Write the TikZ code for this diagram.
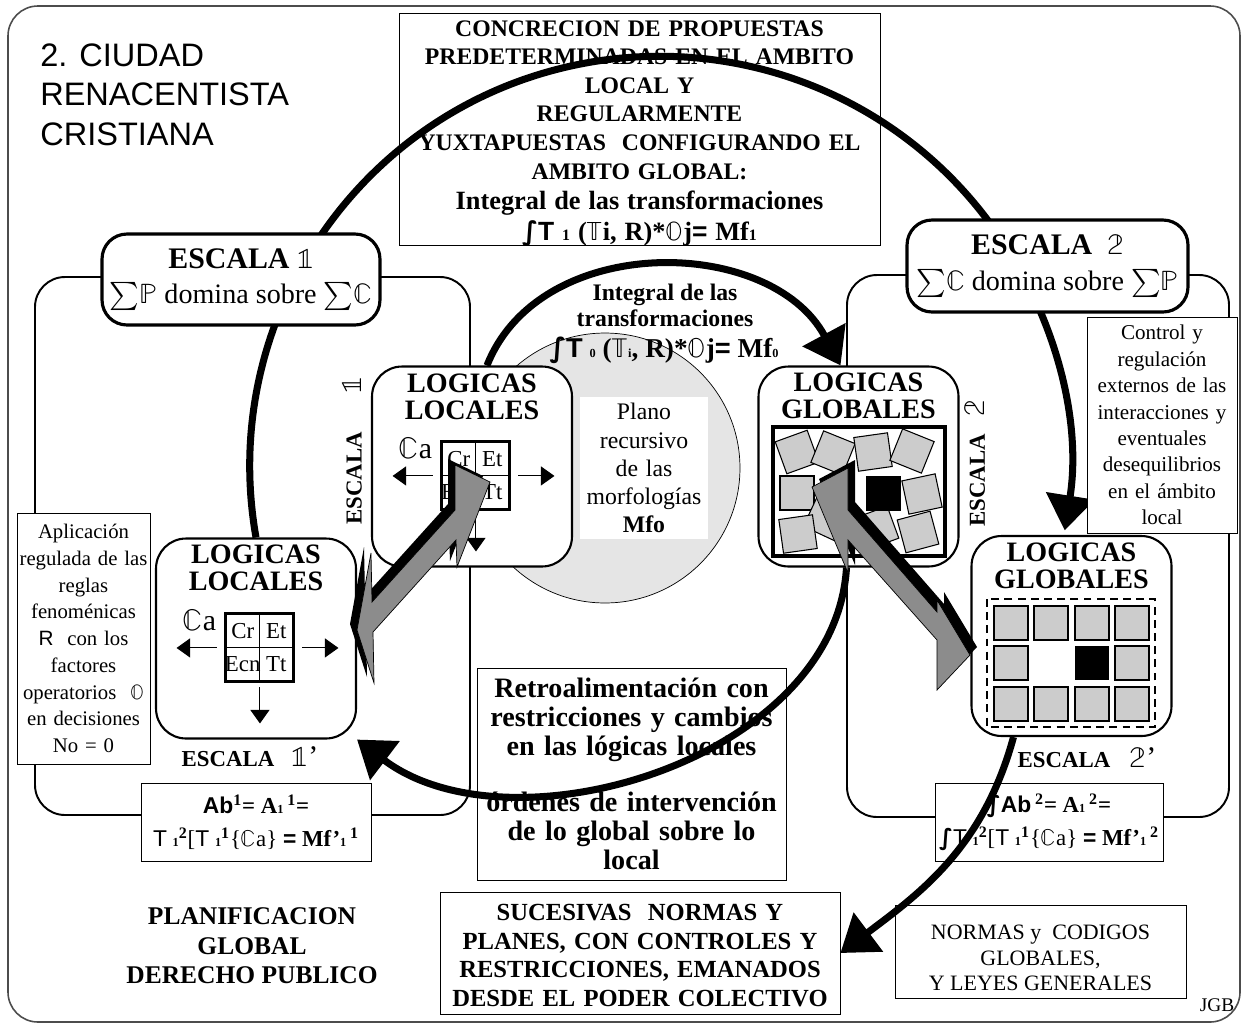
\documentclass[tikz,border=0pt]{standalone}
\usepackage{fontspec}
\usepackage{unicode-math}
\setmainfont{Liberation Serif}
\setsansfont{Liberation Sans}
\newfontfamily\intfont{DejaVu Sans}
\usetikzlibrary{arrows.meta, calc, positioning}

\tikzset{
  zone/.style={draw, rounded corners=0.6cm, line width=1.1pt},
  scalebox/.style={draw, fill=white, rounded corners=0.5cm, line width=1.8pt, inner sep=0pt, align=center},
  logicbox/.style={draw, fill=white, rounded corners=0.6cm, line width=1.2pt, inner sep=0pt, minimum width=4cm, minimum height=4cm},
  textbox/.style={draw, fill=white, line width=0.5pt, inner sep=0pt, align=center},
  cell/.style={draw, line width=0.5pt, minimum size=0.67cm, inner sep=0pt, font=\fontsize{13}{13}\selectfont},
  tile/.style={draw, fill=gray!40, line width=0.6pt, minimum size=0.68cm, inner sep=0pt},
  bigline/.style={line width=4pt},
  bighead/.style={-{Triangle[length=0.7cm,width=0.95cm]}},
  smallarrow/.style={line width=0.6pt, -{Triangle[length=0.27cm,width=0.38cm]}},
  boltfill/.style={fill=black!45, draw=black, line width=0.4pt},
}

\newcommand{\tallint}{{\intfont\bfseries ∫}}

% cuadro Cr / Et / Ecn / Tt con sus flechas
\newcommand{\logicgrid}[3]{%
  \node[cell] (#1cr) at (#2-16.75,#3+16.75) {Cr};
  \node[cell] (#1et) at (#2+16.75,#3+16.75) {Et};
  \node[cell] (#1ecn) at (#2-16.75,#3-16.75) {\makebox[0pt]{Ecn}};
  \node[cell] (#1tt) at (#2+16.75,#3-16.75) {Tt};
  \draw[line width=1.3pt] (#1cr.north west) rectangle (#1tt.south east);
  \node[inner sep=0pt, font=\fontsize{17}{17}\selectfont] (#1ca) at (#2-60,#3+27) {$\mathbb{C}$a};
  \draw[smallarrow] ($(#1cr.south west)+(-9,0)$) -- +(-40,0);
  \draw[smallarrow] ($(#1et.south east)+(9,0)$) -- +(36,0);
  \draw[smallarrow] ($(#1ecn.south east)+(0,-6)$) -- +(0,-36);
}

\begin{document}
\begin{tikzpicture}[x=0.02cm, y=0.02cm]

        \useasboundingbox (0,0) rectangle (1243,-1025);
        \draw[draw=black!70, line width=0.9pt, rounded corners=0.6cm] (8,-6) rectangle (1240,-1022);
        \draw[zone] (35,-277) rectangle (470,-815);
        \draw[zone] (847,-275) rectangle (1229,-817);

        \node[anchor=north west, inner sep=0pt, align=left, font=\sffamily\fontsize{18.5}{22.7}\selectfont] (title) at (40,-43) {2. CIUDAD\\RENACENTISTA\\CRISTIANA};

        % caja superior
        \node[textbox, minimum width=9.62cm, minimum height=4.64cm] (concrecion) at (639.5,-129) {};
        \node[anchor=north, inner sep=0pt, text width=9.4cm, align=center, font=\bfseries\fontsize{13.5}{16.3}\selectfont] (concreciontxt) at (639.5,-20) {CONCRECION DE PROPUESTAS\\ PREDETERMINADAS EN EL AMBITO\\ LOCAL Y\\ REGULARMENTE\\ YUXTAPUESTAS \ CONFIGURANDO EL\\ AMBITO GLOBAL:\par {\fontsize{15}{17.5}\selectfont Integral de las transformaciones\\ \tallint\textsf{T} {\small 1} ($\mathbb{T}$i, R)*$\mathbb{O}$j\textsf{=} Mf{\small 1}\par}};

        % plano recursivo
        \node[circle, draw, fill=gray!20, line width=0.4pt, minimum size=5.4cm, inner sep=0pt] (plane) at (605,-468) {};
        \node[fill=white, minimum width=2.56cm, minimum height=2.84cm, text width=2.5cm, align=center, inner sep=0pt, font=\fontsize{13.5}{16}\selectfont] (plano) at (644,-468) {Plano\\ recursivo\\ de las\\ morfologías\\ \textbf{Mfo}};
        \node[align=center, inner sep=0pt, font=\bfseries\fontsize{13.5}{14.8}\selectfont] (integral0) at (665,-305) {Integral de las\\transformaciones};
        \node[inner sep=0pt, font=\bfseries\fontsize{15.5}{16}\selectfont] (formula0) at (664,-350) {\tallint\textsf{T} {\scriptsize 0} ($\mathbb{T}${\scriptsize i}, R)*$\mathbb{O}$j\textsf{=} Mf{\scriptsize 0}};

        % logicas locales (escala 1)
        \node[logicbox] (loc1) at (472,-466.5) {};
        \node[align=center, inner sep=0pt, font=\bfseries\fontsize{16}{15.4}\selectfont] (loc1t) at (472,-396.5) {LOGICAS\\LOCALES};
        \logicgrid{la}{475.5}{-475.5}

        % logicas globales (escala 2)
        \node[logicbox] (glob1) at (858.5,-466.5) {};
        \node[align=center, inner sep=0pt, font=\bfseries\fontsize{16}{15.4}\selectfont] (glob1t) at (858.5,-396) {LOGICAS\\GLOBALES};
        \draw[line width=2.3pt] (773,-427) rectangle (945,-556);
        \foreach \tx/\ty/\ta [count=\i] in {797/452/20, 833/453/-22, 873/452/8, 912/451/-22, 797/493/0, 826/518/-25, 922/494/12, 798/534/8, 877/528/20, 918/532/15}
            \node[tile, rotate=\ta] (gtile\i) at (\tx,-\ty) {};
        \node[fill=black, minimum size=0.7cm, inner sep=0pt] (g1black) at (883,-493) {};

        % logicas locales (escala 1')
        \node[logicbox] (loc1b) at (256,-638.5) {};
        \node[align=center, inner sep=0pt, font=\bfseries\fontsize{16}{15.4}\selectfont] (loc1bt) at (256,-567.5) {LOGICAS\\LOCALES};
        \logicgrid{lb}{259.5}{-647.5}

        % logicas globales (escala 2')
        \node[logicbox] (glob2) at (1071.5,-636) {};
        \node[align=center, inner sep=0pt, font=\bfseries\fontsize{16}{15.4}\selectfont] (glob2t) at (1071.5,-566) {LOGICAS\\GLOBALES};
        \draw[line width=0.6pt, dash pattern=on 4.5pt off 3pt] (987,-599) rectangle (1155,-727);
        \foreach \tx/\ty in {1011/623, 1051/623, 1092/623, 1132/623, 1011/663, 1132/663, 1011/704, 1051/704, 1092/704, 1132/704}
            \node[tile] (t\tx\ty) at (\tx,-\ty) {};
        \node[fill=black, minimum size=0.68cm, inner sep=0pt] (g2black) at (1092,-663) {};

        % retroalimentacion
        \node[textbox, minimum width=6.18cm, minimum height=4.24cm, text width=6.1cm, font=\bfseries\fontsize{16}{16.5}\selectfont] (retro) at (631.5,-774) {Retroalimentación con\\ restricciones y cambios\\ en las lógicas locales\\[15pt] órdenes de intervención\\ de lo global sobre lo\\ local};

        % flechas gruesas
        \draw[bigline, bighead] (loc1b.north) arc[start angle=190, end angle=-9, radius=410];
        \draw[bigline, bighead] ($(loc1.north)+(15,0)$) .. controls +(53,134) and +(-70,130) .. ($(glob1.north)+(-18,0)$);
        \draw[bigline, bighead] ($(glob1.south)+(-12,0)$) .. controls +(-11.5,-193) and +(153,-116) .. (loc1b.south east);

        % flechas grises
        \fill[black, shift={(-7,6)}] (455,-465) -- (490,-482) -- (457,-567) -- (456,-540) -- (373,-632) -- (374,-683) -- (357,-630) -- (371,-553) -- (372,-602) -- (455,-510) -- cycle;
        \filldraw[boltfill] (455,-465) -- (490,-482) -- (457,-567) -- (456,-540) -- (373,-632) -- (374,-683) -- (357,-630) -- (371,-553) -- (372,-602) -- (455,-510) -- cycle;
        \fill[black, shift={(7,8)}] (848,-468) -- (812,-487) -- (848,-573) -- (848,-540) -- (937,-640) -- (937,-690) -- (970,-655) -- (937,-600) -- (937,-612) -- (848,-510) -- cycle;
        \filldraw[boltfill] (848,-468) -- (812,-487) -- (848,-573) -- (848,-540) -- (937,-640) -- (937,-690) -- (970,-655) -- (937,-600) -- (937,-612) -- (848,-510) -- cycle;

        % escalas
        \node[scalebox, minimum width=5.56cm, minimum height=1.82cm, font=\fontsize{16}{20}\selectfont] (esc1) at (241,-279.5) {{\bfseries\fontsize{17}{17}\selectfont ESCALA $\mathbb{1}$}\\ ${\sum}\mathbb{P}$ domina sobre ${\sum}\mathbb{C}$};
        \node[scalebox, minimum width=5.62cm, minimum height=1.84cm, font=\fontsize{16}{20}\selectfont] (esc2) at (1047.5,-266) {{\bfseries\fontsize{17}{17}\selectfont ESCALA\enspace $\mathbb{2}$}\\ ${\sum}\mathbb{C}$ domina sobre ${\sum}\mathbb{P}$};
        \node[rotate=90, inner sep=0pt] (esc1v) at (352,-451) {{\bfseries\fontsize{13}{13}\selectfont ESCALA}\hspace{0.76cm}{\fontsize{17}{17}\selectfont$\mathbb{1}$}};
        \node[rotate=90, inner sep=0pt] (esc2v) at (975,-463.5) {{\bfseries\fontsize{13}{13}\selectfont ESCALA}\hspace{0.34cm}{\fontsize{17}{17}\selectfont$\mathbb{2}$}};
        \node[inner sep=0pt] (esc1b) at (250,-757) {{\bfseries\fontsize{13}{13}\selectfont ESCALA}\hspace{10pt}{\fontsize{17}{17}\selectfont$\mathbb{1}$'}};
        \node[inner sep=0pt] (esc2b) at (1087,-758) {{\bfseries\fontsize{13}{13}\selectfont ESCALA}\hspace{11pt}{\fontsize{17}{17}\selectfont$\mathbb{2}$'}};

        % cajas laterales
        \node[textbox, minimum width=3cm, minimum height=4.32cm, text width=2.96cm, font=\fontsize{12}{15}\selectfont] (control) at (1162,-425) {Control y\\ regulación\\ externos de las\\ interacciones y\\ eventuales\\ desequilibrios\\ en el ámbito\\ local};
        \node[textbox, minimum width=2.66cm, minimum height=5.02cm, text width=2.66cm, font=\fontsize{11.8}{15.2}\selectfont] (aplicacion) at (83.5,-638.5) {Aplicación\\ \mbox{regulada de las}\\ reglas\\ fenoménicas\\ \textsf{R}\ \ con los\\ factores\\ \mbox{operatorios \ $\mathbb{O}$}\\ en decisiones\\ No = 0};

        % formulas
        \node[textbox, minimum width=4.6cm, minimum height=1.56cm, font=\fontsize{13}{18.8}\selectfont] (form1) at (256,-822) {\textbf{\textsf{Ab}\textsuperscript{1}= A{\scriptsize 1}\,\textsuperscript{1}=}\\ \textsf{T} {\scriptsize\bfseries 1}\textsuperscript{\bfseries 2}[\textsf{T} {\scriptsize\bfseries 1}\textsuperscript{\bfseries 1}\{$\mathbb{C}$a\} \textbf{\textsf{=} Mf'{\scriptsize 1}\,\textsuperscript{1}}};
        \node[textbox, minimum width=4.56cm, minimum height=1.56cm, font=\fontsize{13}{18.8}\selectfont] (form2) at (1049,-822) {\tallint\textbf{\textsf{Ab}\,\textsuperscript{2}= A{\scriptsize 1}\,\textsuperscript{2}=}\\ \tallint\textsf{T} {\scriptsize\bfseries 1}\textsuperscript{\bfseries 2}[\textsf{T} {\scriptsize\bfseries 1}\textsuperscript{\bfseries 1}\{$\mathbb{C}$a\} \textbf{\textsf{=} Mf'{\scriptsize 1}\,\textsuperscript{2}}};

        % parte inferior
        \node[align=center, inner sep=0pt, font=\bfseries\fontsize{14.5}{16.8}\selectfont] (planif) at (252,-946) {PLANIFICACION\\ GLOBAL\\ DERECHO PUBLICO};
        \node[textbox, minimum width=8cm, minimum height=2.44cm] (sucesivas) at (640,-953) {};
        \node[anchor=north, inner sep=0pt, text width=7.9cm, align=center, font=\bfseries\fontsize{14}{16.3}\selectfont] (sucesivastxt) at (640,-904) {SUCESIVAS \ NORMAS Y\\ PLANES, CON CONTROLES Y\\ RESTRICCIONES, EMANADOS\\ DESDE EL PODER COLECTIVO};
        \node[textbox, minimum width=5.82cm, minimum height=1.86cm] (normas) at (1040.5,-951.5) {};
        \node[align=center, inner sep=0pt, font=\fontsize{12.5}{14.5}\selectfont] (normastxt) at (1040.5,-958) {NORMAS y \ CODIGOS\\ GLOBALES,\\ Y LEYES GENERALES};
        \node[inner sep=0pt, font=\fontsize{11}{11}\selectfont] (jgb) at (1217,-1005) {JGB};

        \draw[bigline, bighead] ($(glob2.south)+(-58,0)$) .. controls +(-30,-110) and +(80,60) .. (sucesivas.east);

\end{tikzpicture}
\end{document}
